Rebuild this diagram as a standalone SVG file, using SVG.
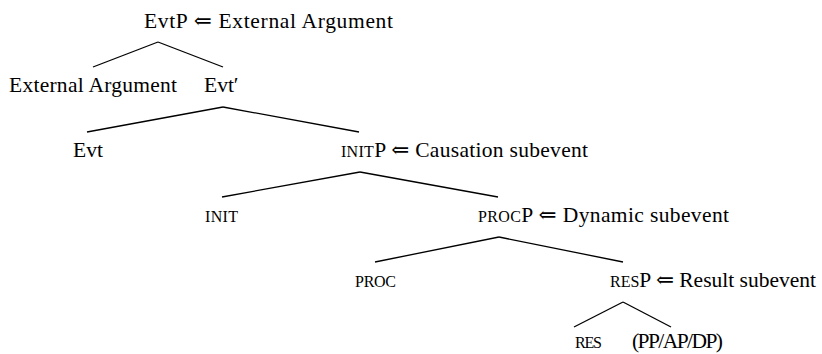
<svg xmlns="http://www.w3.org/2000/svg" width="822" height="354" viewBox="0 0 822 354">
<style>
text{font-family:"Liberation Serif","Times New Roman","DejaVu Serif",serif;font-size:21.5px;fill:#000}
.sc{font-variant:small-caps;font-size:23px}
#edges line{stroke:#000;stroke-width:1.3;fill:none}
</style>
<rect width="822" height="354" fill="#fff"/>
<g id="edges">
<line x1="158" y1="42" x2="93" y2="67"/>
<line x1="158" y1="42" x2="223" y2="67"/>
<line x1="223" y1="107" x2="87" y2="132"/>
<line x1="223" y1="107" x2="359" y2="132"/>
<line x1="360" y1="172" x2="222" y2="197"/>
<line x1="360" y1="172" x2="498" y2="197"/>
<line x1="499" y1="237" x2="375" y2="262"/>
<line x1="499" y1="237" x2="623" y2="262"/>
<line x1="623" y1="302" x2="574" y2="327"/>
<line x1="623" y1="302" x2="671" y2="327"/>
</g>
<g id="EvtP"><text x="144" y="28" textLength="249" lengthAdjust="spacing">EvtP ⇐ External Argument</text></g>
<g id="ExtArg"><text x="9" y="92" textLength="168" lengthAdjust="spacing">External Argument</text></g>
<g id="EvtBar"><text x="204" y="92">Evt′</text></g>
<g id="Evt"><text x="73" y="157">Evt</text></g>
<g id="initP"><text x="341" y="157" textLength="247" lengthAdjust="spacing"><tspan class="sc">init</tspan>P ⇐ Causation subevent</text></g>
<g id="init"><text x="205" y="222" class="sc" textLength="33" lengthAdjust="spacing">init</text></g>
<g id="procP"><text x="478" y="222" textLength="251" lengthAdjust="spacing"><tspan class="sc">proc</tspan>P ⇐ Dynamic subevent</text></g>
<g id="proc"><text x="355" y="287" class="sc" textLength="41" lengthAdjust="spacing">proc</text></g>
<g id="resP"><text x="610" y="287" textLength="206" lengthAdjust="spacing"><tspan class="sc">res</tspan>P ⇐ Result subevent</text></g>
<g id="res"><text x="575" y="348" class="sc" textLength="27" lengthAdjust="spacing">res</text></g>
<g id="compl"><text x="632" y="348" textLength="91" lengthAdjust="spacing">(PP/AP/DP)</text></g>
</svg>
